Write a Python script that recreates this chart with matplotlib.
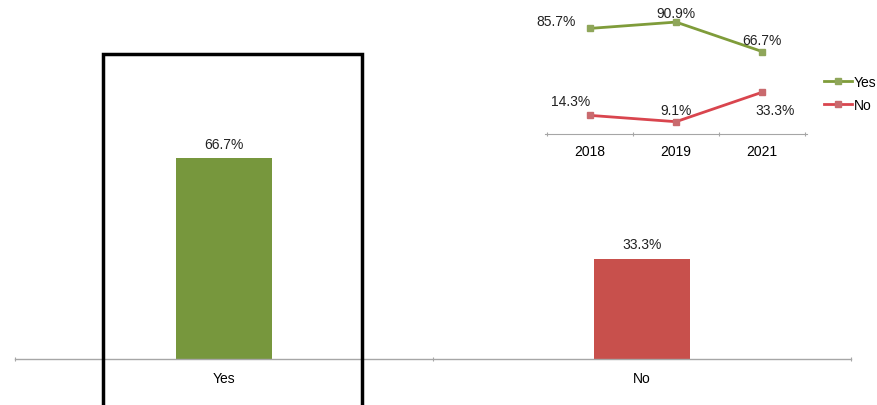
import numpy as np
import matplotlib.pyplot as plt
from matplotlib.patches import Rectangle

plt.rcParams['font.family'] = ['Liberation Sans', 'DejaVu Sans']

# current answer split
answers = ['Yes', 'No']
shares = [66.7, 33.3]

# trend by survey year
years = ['2018', '2019', '2021']
yes_trend = [85.7, 90.9, 66.7]
no_trend = [14.3, 9.1, 33.3]

green = '#77973d'
red = '#c8504c'
line_green = '#7f9c3a'
line_red = '#d9454e'
axis_grey = '#a6a6a6'
fs = 10

W, H = 878, 406
fig = plt.figure(figsize=(W/100, H/100), dpi=100)

def px_axes(left, top, right, bottom):
    # axes placed by pixel edges, y measured from the top
    return fig.add_axes([left/W, 1-bottom/H, (right-left)/W, (bottom-top)/H])

# main bar chart
ax = px_axes(15, 0, 851, 360)
x = np.arange(len(answers))
ax.bar(x, shares, width=0.23, color=[green, red], zorder=2)
for xi, v in zip(x, shares):
    ax.text(xi, v + 2.5, f'{v}%', ha='center', va='bottom', fontsize=fs, color='#222222')
ax.set_xlim(-0.5, 1.5)
ax.set_ylim(0, 119.6)
ax.set_yticks([])
ax.set_xticks([-0.5, 0.5, 1.5])
ax.set_xticklabels([])
ax.set_xticks(x, minor=True)
ax.set_xticklabels(answers, minor=True, fontsize=fs)
ax.tick_params(axis='x', which='major', length=3, color=axis_grey, direction='inout')
ax.tick_params(axis='x', which='minor', length=0, pad=9)
for s in ['top', 'left', 'right']:
    ax.spines[s].set_visible(False)
ax.spines['bottom'].set_color(axis_grey)
ax.spines['bottom'].set_linewidth(1.0)
ax.patch.set_alpha(0)

# highlight frame round the first category
fig.patches.append(Rectangle((103/W, -0.02), (362-103)/W, 1.02 - 55/H,
                             transform=fig.transFigure, fill=False,
                             edgecolor='black', linewidth=2.5, zorder=5))

# inset trend lines
ia = px_axes(545, 12, 807, 135)
ix = np.arange(len(years))
ia.plot(ix, yes_trend, color=line_green, lw=2, marker='s', ms=5,
        mfc='#8fa65a', mec='#8fa65a', label='Yes')
ia.plot(ix, no_trend, color=line_red, lw=2, marker='s', ms=5,
        mfc='#c96a6e', mec='#c96a6e', label='No')
ia.set_xlim(-0.52, 2.52)
ia.set_ylim(-1, 100)
ia.set_yticks([])
ia.set_xticks([-0.5, 0.5, 1.5, 2.5])
ia.set_xticklabels([])
ia.set_xticks(ix, minor=True)
ia.set_xticklabels(years, minor=True, fontsize=fs)
ia.tick_params(axis='x', which='major', length=3, color=axis_grey, direction='inout')
ia.tick_params(axis='x', which='minor', length=0, pad=7)
for s in ['top', 'left', 'right']:
    ia.spines[s].set_visible(False)
ia.spines['bottom'].set_color(axis_grey)
ia.patch.set_alpha(0)

# value labels around the trend points (offsets in points)
offsets_yes = [(-10, 5, 'right'), (0, 6.5, 'center'), (0, 8.6, 'center')]
offsets_no = [(-13.7, 10, 'center'), (0, 8.6, 'center'), (9.4, -13, 'center')]
for xi, v, (dx, dy, ha) in zip(ix, yes_trend, offsets_yes):
    ia.annotate(f'{v}%', (xi, v), xytext=(dx, dy), textcoords='offset points',
                ha=ha, va='center', fontsize=fs, color='#222222')
for xi, v, (dx, dy, ha) in zip(ix, no_trend, offsets_no):
    ia.annotate(f'{v}%', (xi, v), xytext=(dx, dy), textcoords='offset points',
                ha=ha, va='center', fontsize=fs, color='#222222')

ia.legend(loc='upper left', bbox_to_anchor=(824/W, 1-76/H), bbox_transform=fig.transFigure,
          frameon=False, fontsize=fs, handlelength=2.0, handletextpad=0.15,
          labelspacing=0.65, borderaxespad=0, borderpad=0)

fig.savefig('out.png', dpi=100)
